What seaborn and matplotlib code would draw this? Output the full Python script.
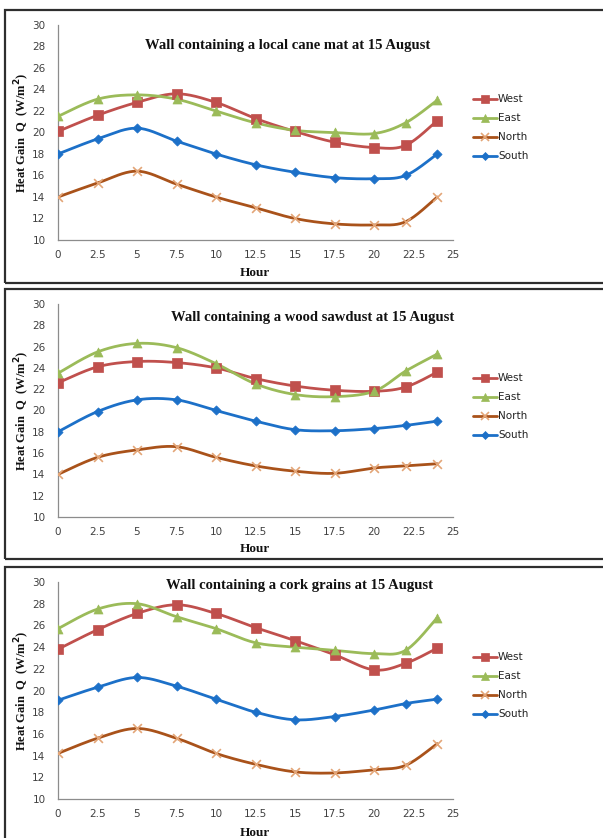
import numpy as np
import pandas as pd
import matplotlib
matplotlib.use("Agg")
import matplotlib.pyplot as plt
from matplotlib.patches import Rectangle
from matplotlib.lines import Line2D
import seaborn as sns

# Hours of the day at which the heat gain was evaluated
hours = [0, 2.5, 5, 7.5, 10, 12.5, 15, 17.5, 20, 22, 24]
orientations = ["West", "East", "North", "South"]

# Heat gain (W/m2) – wall containing a local cane mat
cane_west = [20.1, 21.6, 22.8, 23.6, 22.8, 21.3, 20.1, 19.1, 18.6, 18.8, 21.1]
cane_east = [21.5, 23.1, 23.5, 23.1, 22.0, 20.9, 20.2, 20.0, 19.9, 20.9, 23.0]
cane_north = [14.0, 15.3, 16.4, 15.2, 14.0, 13.0, 12.0, 11.5, 11.4, 11.7, 14.0]
cane_south = [18.0, 19.4, 20.4, 19.2, 18.0, 17.0, 16.3, 15.8, 15.7, 16.0, 18.0]

# Heat gain (W/m2) – wall containing wood sawdust
saw_west = [22.6, 24.1, 24.6, 24.5, 24.0, 23.0, 22.3, 21.9, 21.8, 22.2, 23.6]
saw_east = [23.5, 25.5, 26.3, 25.9, 24.4, 22.5, 21.5, 21.3, 21.8, 23.7, 25.3]
saw_north = [14.0, 15.6, 16.3, 16.6, 15.6, 14.8, 14.3, 14.1, 14.6, 14.8, 15.0]
saw_south = [18.0, 19.9, 21.0, 21.0, 20.0, 19.0, 18.2, 18.1, 18.3, 18.6, 19.0]

# Heat gain (W/m2) – wall containing cork grains
cork_west = [23.8, 25.6, 27.1, 27.9, 27.1, 25.8, 24.6, 23.3, 21.9, 22.5, 23.9]
cork_east = [25.7, 27.5, 28.0, 26.8, 25.7, 24.4, 24.0, 23.7, 23.4, 23.7, 26.7]
cork_north = [14.2, 15.6, 16.5, 15.6, 14.2, 13.2, 12.5, 12.4, 12.7, 13.1, 15.1]
cork_south = [19.1, 20.3, 21.2, 20.4, 19.2, 18.0, 17.3, 17.6, 18.2, 18.8, 19.2]

titles = [
    "Wall containing a local cane mat at 15 August",
    "Wall containing a wood sawdust at 15 August",
    "Wall containing a cork grains at 15 August",
]
panels = [
    [cane_west, cane_east, cane_north, cane_south],
    [saw_west, saw_east, saw_north, saw_south],
    [cork_west, cork_east, cork_north, cork_south],
]

line_colors = {"West": "#C0504D", "East": "#9BBB59", "North": "#A9521A", "South": "#1C70C8"}
marker_colors = {"West": "#C0504D", "East": "#9BBB59", "North": "#E3A577", "South": "#1C70C8"}
markers = {"West": "s", "East": "^", "North": "x", "South": "D"}
marker_sizes = {"West": 42, "East": 42, "North": 40, "South": 22}


def smooth_curve(x, y, n=30):
    """Cardinal (Catmull-Rom) Bezier smoothing through the given points."""
    x = np.asarray(x, float)
    y = np.asarray(y, float)
    px = np.concatenate([[x[0]], x, [x[-1]]])
    py = np.concatenate([[y[0]], y, [y[-1]]])
    xs, ys = [], []
    t = np.linspace(0, 1, n)
    for i in range(1, len(px) - 2):
        p0 = np.array([px[i], py[i]])
        p3 = np.array([px[i + 1], py[i + 1]])
        p1 = p0 + (np.array([px[i + 1], py[i + 1]]) - np.array([px[i - 1], py[i - 1]])) / 6
        p2 = p3 - (np.array([px[i + 2], py[i + 2]]) - np.array([px[i], py[i]])) / 6
        b = ((1 - t) ** 3)[:, None] * p0 + (3 * (1 - t) ** 2 * t)[:, None] * p1 \
            + (3 * (1 - t) * t ** 2)[:, None] * p2 + (t ** 3)[:, None] * p3
        if i > 1:
            b = b[1:]
        xs.append(b[:, 0])
        ys.append(b[:, 1])
    return np.concatenate(xs), np.concatenate(ys)


sns.set_theme(style="white")
plt.rcParams["font.family"] = ["DejaVu Sans"]

W, H = 603, 838
fig = plt.figure(figsize=(W / 100, H / 100), dpi=100)

# axes rectangles in pixels: (left, top of y=30, bottom of y=10)
axes_px = [(58, 25, 240), (58, 304, 517), (58, 582, 799)]
frames_px = [(5, 10, 283), (5, 289, 559), (5, 567, 845)]
title_px = [(288, 46), (313, 318), (299, 585)]
xlabel_py = [273, 549, 833]
legend_top = [99, 378, 657]

axis_grey = "#8C8C8C"
tick_text = "#404040"

for k in range(3):
    fl, ft, fb = frames_px[k]
    fig.patches.append(Rectangle((fl / W, 1 - fb / H), (W + 10 - fl) / W, (fb - ft) / H,
                                 transform=fig.transFigure, fill=False,
                                 edgecolor="#2E2E2E", linewidth=1.6, zorder=0))

    left, top, bottom = axes_px[k]
    ax = fig.add_axes([left / W, 1 - bottom / H, (453 - left) / W, (bottom - top) / H])
    ax.set_facecolor("none")

    rows = []
    for name, vals in zip(orientations, panels[k]):
        sx, sy = smooth_curve(hours, vals)
        rows.append(pd.DataFrame({"hour": sx, "q": sy, "side": name}))
    curves = pd.concat(rows, ignore_index=True)
    sns.lineplot(data=curves, x="hour", y="q", hue="side", palette=line_colors,
                 estimator=None, sort=False, linewidth=2.0, legend=False, ax=ax)

    pts = pd.DataFrame({
        "hour": np.tile(hours, 4),
        "q": np.concatenate(panels[k]),
        "side": np.repeat(orientations, len(hours)),
    })
    for name in orientations:
        sub = pts[pts["side"] == name]
        if markers[name] == "x":
            sns.scatterplot(data=sub, x="hour", y="q", marker="x", s=marker_sizes[name],
                            color=marker_colors[name], linewidth=1.2, ax=ax, zorder=5,
                            legend=False)
        else:
            sns.scatterplot(data=sub, x="hour", y="q", marker=markers[name],
                            s=marker_sizes[name], color=marker_colors[name],
                            edgecolor=marker_colors[name], linewidth=0.5, ax=ax,
                            zorder=5, legend=False)

    ax.set_xlim(0, 25)
    ax.set_ylim(10, 30)
    ax.set_xticks(np.arange(0, 25.1, 2.5))
    ax.set_xticklabels(["0", "2.5", "5", "7.5", "10", "12.5", "15", "17.5", "20", "22.5", "25"])
    ax.set_yticks(np.arange(10, 31, 2))
    for s in ["top", "right"]:
        ax.spines[s].set_visible(False)
    for s in ["left", "bottom"]:
        ax.spines[s].set_color(axis_grey)
        ax.spines[s].set_linewidth(0.9)
    ax.tick_params(axis="both", direction="out", length=4, width=0.8, color=axis_grey,
                   labelsize=7.5, labelcolor=tick_text, pad=5)
    ax.tick_params(axis="x", pad=3)
    ax.set_xlabel("")
    ax.set_ylabel("")

    tx, ty = title_px[k]
    fig.text(tx / W, 1 - ty / H, titles[k], ha="center", va="center",
             family="Liberation Serif", fontweight="bold", fontsize=10.5, color="#111111")
    fig.text(255 / W, 1 - xlabel_py[k] / H, "Hour", ha="center", va="center",
             family="Liberation Serif", fontweight="bold", fontsize=9.5, color="#111111")
    fig.text(22 / W, 1 - (top + bottom) / 2 / H, "Heat Gain  Q  (W/m$^\\mathbf{2}$)",
             rotation=90, ha="center", va="center", family="Liberation Serif",
             fontweight="bold", fontsize=9, color="#111111")

    # legend entries drawn at the right of each panel
    for j, name in enumerate(orientations):
        ly = 1 - (legend_top[k] + 19 * j) / H
        fig.lines.append(Line2D([473 / W, 497 / W], [ly, ly], transform=fig.transFigure,
                                color=line_colors[name], linewidth=2.0))
        fig.lines.append(Line2D([485 / W], [ly], transform=fig.transFigure,
                                marker=markers[name], color=marker_colors[name],
                                markersize=np.sqrt(marker_sizes[name]) * 0.9,
                                markeredgewidth=1.2 if name == "North" else 0.5,
                                linestyle="none"))
        fig.text(498 / W, ly, name, ha="left", va="center", fontsize=7.5,
                 color="#222222", family="DejaVu Sans")

fig.savefig("out.png", dpi=100)
